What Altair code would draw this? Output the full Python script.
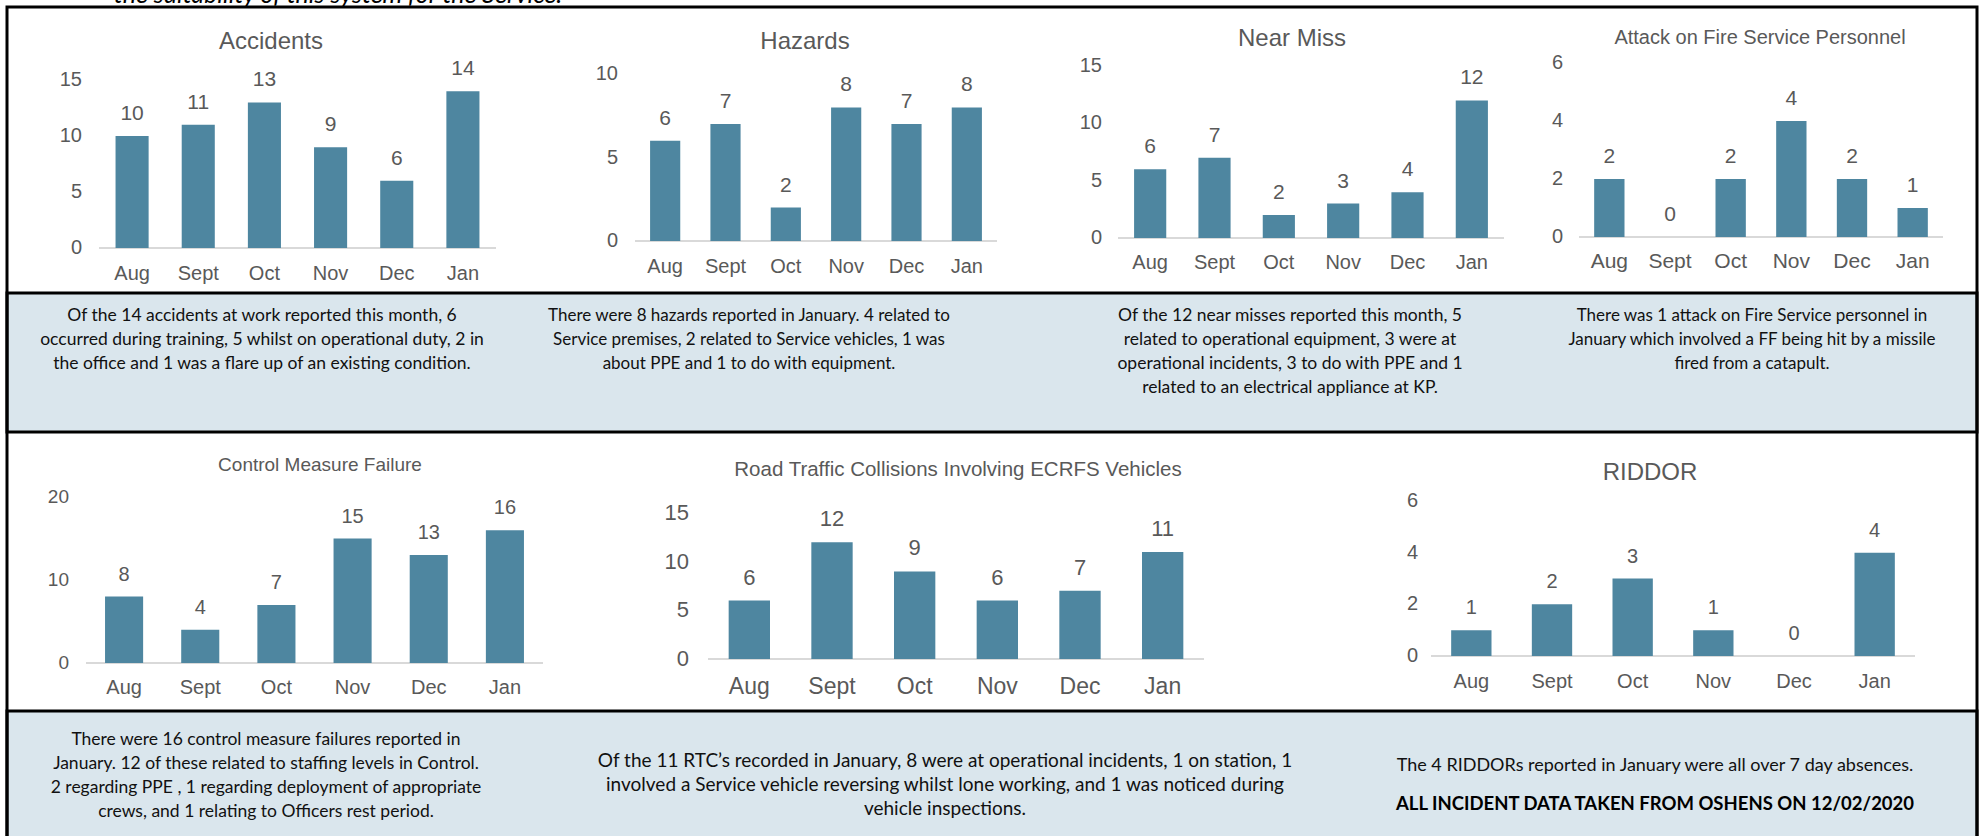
import altair as alt
import pandas as pd

# ---- data -------------------------------------------------------------
months = ["Aug", "Sept", "Oct", "Nov", "Dec", "Jan"]

accidents = [10, 11, 13, 9, 6, 14]
hazards = [6, 7, 2, 8, 7, 8]
near_misses = [6, 7, 2, 3, 4, 12]
attacks = [2, 0, 2, 4, 2, 1]
control_failures = [8, 4, 7, 15, 13, 16]
road_collisions = [6, 12, 9, 6, 7, 11]
riddors = [1, 2, 3, 1, 0, 4]

series = [accidents, hazards, near_misses, attacks,
          control_failures, road_collisions, riddors]

chart_titles = [
    "Accidents",
    "Hazards",
    "Near Miss",
    "Attack on Fire Service Personnel",
    "Control Measure Failure",
    "Road Traffic Collisions Involving  ECRFS Vehicles",
    "RIDDOR",
]
axis_ticks = [
    [0, 5, 10, 15],
    [0, 5, 10],
    [0, 5, 10, 15],
    [0, 2, 4, 6],
    [0, 10, 20],
    [0, 5, 10, 15],
    [0, 2, 4, 6],
]

summaries = [
    "Of the 14 accidents at work reported this month, 6\n"
    "occurred during training, 5 whilst on operational duty, 2 in\n"
    "the office and 1 was a flare up of an existing condition.",
    "There were 8 hazards reported in January. 4 related to\n"
    "Service premises, 2 related to Service vehicles, 1 was\n"
    "about PPE and 1 to do with equipment.",
    "Of the 12 near misses reported this month, 5\n"
    "related to operational equipment, 3 were at\n"
    "operational incidents, 3 to do with PPE and 1\n"
    "related to an electrical appliance at KP.",
    "There was 1 attack on Fire Service personnel in\n"
    "January which involved a FF being hit by a missile\n"
    "fired from a catapult.",
    "There were 16 control measure failures reported in\n"
    "January.  12 of these related to staffing levels in Control.\n"
    "2 regarding PPE , 1 regarding deployment of appropriate\n"
    "crews,  and 1 relating to Officers rest period.",
    "Of the 11 RTC\u2019s recorded in January, 8 were at operational incidents, 1 on station, 1\n"
    "involved a Service vehicle reversing whilst lone working, and 1 was noticed during\n"
    "vehicle inspections.",
    "The 4 RIDDORs reported in January were all over 7 day absences.",
]
footnote = "ALL INCIDENT DATA TAKEN FROM OSHENS ON 12/02/2020"
header_tail = "the suitability of this system for the Service."

# ---- layout & style ---------------------------------------------------
W, H = 1980, 836
BAR = "#4e86a0"
INK = "#595959"
BAND = "#dae6ed"
RULE = "#d9d9d9"
CHART_FONT = "Liberation Sans"
BODY_FONT = "Lato"

# per panel: x range, y range (zero, top), y-label right edge, month-label
# centre line, title centre (x, y), title size, tick size, value size, month size
panels = [
    dict(xr=[99, 496], yr=[248, 80], yl=82, my=274, tx=271, ty=42, ts=24, ks=20, vs=21, ms=20),
    dict(xr=[635, 997], yr=[241, 74], yl=618, my=267, tx=805, ty=42, ts=24, ks=20, vs=21, ms=20),
    dict(xr=[1118, 1504], yr=[238, 66], yl=1102, my=263, tx=1292, ty=39, ts=24, ks=20, vs=21, ms=20),
    dict(xr=[1579, 1943], yr=[237, 63], yl=1563, my=262, tx=1760, ty=38, ts=20, ks=20, vs=21, ms=21),
    dict(xr=[86, 543], yr=[663, 497], yl=69, my=688, tx=320, ty=465, ts=19, ks=19, vs=20, ms=20),
    dict(xr=[708, 1204], yr=[659, 513], yl=689, my=687, tx=958, ty=470, ts=20.5, ks=22, vs=22, ms=23),
    dict(xr=[1431, 1915], yr=[656, 501], yl=1418, my=682, tx=1650, ty=473, ts=24, ks=20, vs=20, ms=20),
]

# summary text anchors: centre x, first-line baseline, font size, line height
summary_pos = [
    (262, 321, 17.5, 24),
    (749, 321, 17, 24),
    (1290, 321, 17.5, 24),
    (1752, 321, 17, 24),
    (266, 745, 17.5, 24),
    (945, 767, 19, 24),
    (1655, 771, 18, 24),
]


def one_row(**fields):
    return alt.Data(values=[fields or {"k": 0}])


def box(x0, x1, y0, y1, **style):
    return alt.Chart(one_row()).mark_rect(**style).encode(
        x=alt.value(x0), x2=alt.value(x1), y=alt.value(y0), y2=alt.value(y1)
    )


def bar_panel(title, values, ticks, p):
    """Column chart placed on the page through pixel scale ranges."""
    df = pd.DataFrame({"month": months, "count": values})
    xs = alt.Scale(domain=months, range=p["xr"], paddingInner=0.5, paddingOuter=0.25)
    ys = alt.Scale(domain=[0, ticks[-1]], range=p["yr"], nice=False)
    x_enc = alt.X("month:N", scale=xs, axis=None)

    bars = alt.Chart(df).mark_bar(color=BAR).encode(
        x=x_enc, y=alt.Y("count:Q", scale=ys, axis=None)
    )
    values_txt = alt.Chart(df).mark_text(
        dy=-16, baseline="alphabetic", color=INK, font=CHART_FONT, fontSize=p["vs"]
    ).encode(x=x_enc, y=alt.Y("count:Q", scale=ys, axis=None), text="count:Q")

    # category axis: baseline at zero and month labels
    baseline = alt.Chart(one_row(v=0)).mark_rule(color=RULE, strokeWidth=2).encode(
        x=alt.value(p["xr"][0]), x2=alt.value(p["xr"][1]),
        y=alt.Y("v:Q", scale=ys, axis=None),
    )
    month_txt = alt.Chart(df).mark_text(
        baseline="middle", color=INK, font=CHART_FONT, fontSize=p["ms"]
    ).encode(x=x_enc, y=alt.value(p["my"]), text="month:N")

    # value axis labels
    tick_df = pd.DataFrame({"tick": ticks})
    tick_txt = alt.Chart(tick_df).mark_text(
        align="right", baseline="middle", color=INK, font=CHART_FONT, fontSize=p["ks"]
    ).encode(
        x=alt.value(p["yl"]),
        y=alt.Y("tick:Q", scale=ys, axis=None),
        text="tick:Q",
    )

    heading = alt.Chart(one_row(t=title)).mark_text(
        color=INK, font=CHART_FONT, fontSize=p["ts"], baseline="middle", align="center"
    ).encode(x=alt.value(p["tx"]), y=alt.value(p["ty"]), text="t:N")

    return [baseline, bars, values_txt, month_txt, tick_txt, heading]


layers = [
    # summary bands and outer frame
    box(7, 1977, 293, 432, fill=BAND, stroke="black", strokeWidth=3),
    box(7, 1977, 711, 850, fill=BAND, stroke="black", strokeWidth=3),
    box(7, 1977, 7, 850, fillOpacity=0, stroke="black", strokeWidth=3),
]

for title, vals, ticks, p in zip(chart_titles, series, axis_ticks, panels):
    layers.extend(bar_panel(title, vals, ticks, p))

for text, (cx, by, fs, lh) in zip(summaries, summary_pos):
    layers.append(
        alt.Chart(one_row(t=text)).mark_text(
            font=BODY_FONT, fontSize=fs, color="#111111", align="center",
            baseline="alphabetic", lineBreak="\n", lineHeight=lh,
        ).encode(x=alt.value(cx), y=alt.value(by), text="t:N")
    )

layers.append(
    alt.Chart(one_row(t=footnote)).mark_text(
        font=BODY_FONT, fontSize=18.5, fontWeight="bold", color="#000000",
        align="center", baseline="alphabetic",
    ).encode(x=alt.value(1655), y=alt.value(810), text="t:N")
)

layers.append(
    alt.Chart(one_row(t=header_tail)).mark_text(
        font=BODY_FONT, fontSize=25, fontStyle="italic", fontWeight="normal",
        color="#000000", align="center", baseline="alphabetic",
    ).encode(x=alt.value(338), y=alt.value(3), text="t:N")
)

chart = (
    alt.layer(*layers)
    .resolve_scale(x="independent", y="independent")
    .properties(
        width=W, height=H,
        autosize=alt.AutoSizeParams(type="none"),
        padding=0, background="white",
    )
    .configure_view(strokeWidth=0)
)

chart.save("out.html", embed_options={"renderer": "svg", "actions": False})
